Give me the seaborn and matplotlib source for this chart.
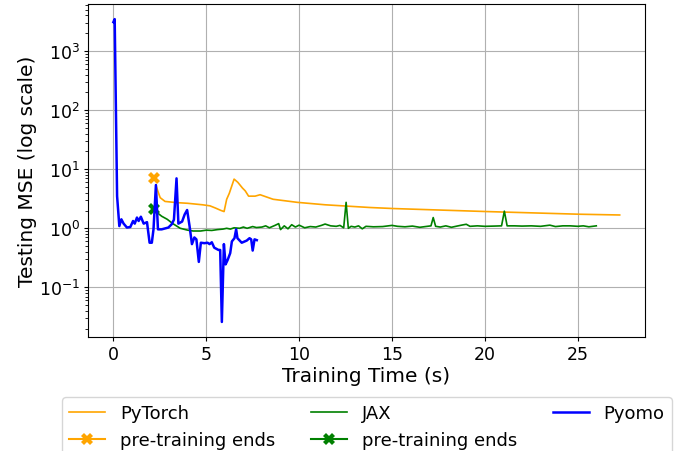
import matplotlib
matplotlib.use("Agg")
import matplotlib.pyplot as plt
import seaborn as sns

# PyTorch
torch_t = [2.29, 2.4, 2.52, 2.78, 3.4, 4.0, 4.8, 5.2, 5.5, 5.8, 5.96, 6.1, 6.24, 6.5, 6.7,
           6.95, 7.1, 7.28, 7.63, 7.9, 8.6, 9.9, 11.4, 13.8, 15.07, 20.1, 25.1, 27.26]
torch_mse = [5.4, 4.2, 3.3, 2.85, 2.72, 2.65, 2.5, 2.4, 2.2, 2.0, 1.92, 3.1, 3.9, 6.8, 6.0,
             4.8, 4.3, 3.5, 3.5, 3.7, 3.1, 2.75, 2.5, 2.25, 2.16, 1.92, 1.73, 1.68]
torch_pre_t = [2.17]
torch_pre_mse = [7.0]

# JAX
jax_t = [2.17, 2.35, 2.6, 2.9, 3.2, 3.6, 4.0, 4.3, 4.7, 5.0, 5.3, 5.6, 5.9, 6.1, 6.3, 6.5,
         6.8, 7.0, 7.2, 7.5, 7.7, 8.0, 8.2, 8.4, 8.7, 8.9, 9.0, 9.2, 9.4, 9.6, 9.8, 10.0,
         10.3, 10.6, 10.9, 11.2, 11.4, 11.7, 12.0, 12.2, 12.4, 12.53, 12.65, 12.8, 13.0,
         13.2, 13.4, 13.6, 14.0, 14.5, 15.0, 15.3, 15.7, 16.1, 16.5, 16.9, 17.1, 17.22,
         17.35, 17.6, 17.9, 18.2, 18.5, 18.8, 19.0, 19.2, 19.6, 20.0, 20.5, 20.9, 21.05,
         21.2, 21.6, 22.0, 22.5, 23.0, 23.5, 23.8, 24.2, 24.6, 25.0, 25.3, 25.6, 26.0]
jax_mse = [2.16, 1.85, 1.6, 1.42, 1.2, 1.0, 0.93, 0.9, 0.9, 0.93, 0.92, 0.95, 0.97, 1.0,
           0.97, 1.02, 1.0, 1.05, 1.0, 1.07, 1.03, 1.05, 1.1, 1.02, 1.12, 1.2, 0.95, 1.1,
           0.98, 1.15, 1.05, 1.13, 1.02, 1.07, 1.05, 1.12, 1.18, 1.1, 1.08, 1.12, 1.02,
           2.75, 1.0, 1.08, 1.05, 1.1, 0.98, 1.08, 1.06, 1.07, 1.12, 1.08, 1.06, 1.09,
           1.04, 1.08, 1.1, 1.52, 1.08, 1.05, 1.1, 1.04, 1.09, 1.14, 1.17, 1.08, 1.1, 1.08,
           1.09, 1.1, 1.95, 1.1, 1.1, 1.09, 1.1, 1.08, 1.13, 1.07, 1.1, 1.1, 1.08, 1.1,
           1.06, 1.1]
jax_pre_t = [2.17]
jax_pre_mse = [2.16]

# Pyomo
pyomo_t = [0.0, 0.07, 0.2, 0.32, 0.43, 0.55, 0.73, 0.91, 1.06, 1.15, 1.27, 1.36, 1.48, 1.63,
           1.81, 1.95, 2.07, 2.16, 2.29, 2.4, 2.6, 2.96, 3.14, 3.26, 3.4, 3.5, 3.7, 3.84,
           3.97, 4.1, 4.23, 4.36, 4.47, 4.6, 4.71, 4.9, 5.07, 5.18, 5.3, 5.43, 5.66, 5.75,
           5.84, 5.95, 6.04, 6.15, 6.29, 6.38, 6.52, 6.61, 6.68, 6.91, 7.18, 7.33, 7.42,
           7.5, 7.6, 7.72]
pyomo_mse = [3090, 3470, 3.5, 1.09, 1.42, 1.2, 1.03, 1.05, 1.33, 1.2, 1.52, 1.33, 1.57, 1.2,
             1.27, 0.57, 0.57, 0.96, 5.4, 0.96, 0.96, 1.03, 1.17, 1.4, 7.0, 1.2, 1.3, 1.72,
             2.04, 1.1, 0.54, 0.7, 0.65, 0.27, 0.57, 0.56, 0.57, 0.54, 0.58, 0.47, 0.43,
             0.43, 0.026, 0.54, 0.245, 0.29, 0.38, 0.6, 0.68, 0.96, 0.68, 0.57, 0.62, 0.68,
             0.65, 0.42, 0.65, 0.63]

fig, ax = plt.subplots(figsize=(6.88, 4.52), dpi=100)
fig.subplots_adjust(left=0.128, right=0.9375, top=0.989, bottom=0.252)

sns.lineplot(x=torch_t, y=torch_mse, ax=ax, color='orange', linewidth=1.2,
             label='PyTorch', sort=False)
sns.lineplot(x=torch_pre_t, y=torch_pre_mse, ax=ax, color='orange', marker='X',
             markersize=8, markeredgewidth=0, label='pre-training ends')
sns.lineplot(x=jax_t, y=jax_mse, ax=ax, color='green', linewidth=1.2,
             label='JAX', sort=False)
sns.lineplot(x=jax_pre_t, y=jax_pre_mse, ax=ax, color='green', marker='X',
             markersize=8, markeredgewidth=0, label='pre-training ends')
sns.lineplot(x=pyomo_t, y=pyomo_mse, ax=ax, color='blue', linewidth=1.8,
             label='Pyomo', sort=False)

ax.set_yscale('log')
ax.grid(True, color='#b0b0b0', linewidth=0.8)
ax.set_axisbelow(True)
ax.set_xlabel('Training Time (s)', fontsize=14.5, labelpad=2)
ax.set_ylabel('Testing MSE (log scale)', fontsize=14.5, labelpad=1)
ax.tick_params(labelsize=12.5, length=3, pad=3)

handles, labels = ax.get_legend_handles_labels()
ax.legend_.remove()
fig.legend(handles, labels, ncol=3, loc='upper left',
           bbox_to_anchor=(62 / 688, 1 - 398 / 452), borderaxespad=0,
           fontsize=13, labelspacing=0.5, columnspacing=2.0)

fig.savefig('out.png', dpi=100)
